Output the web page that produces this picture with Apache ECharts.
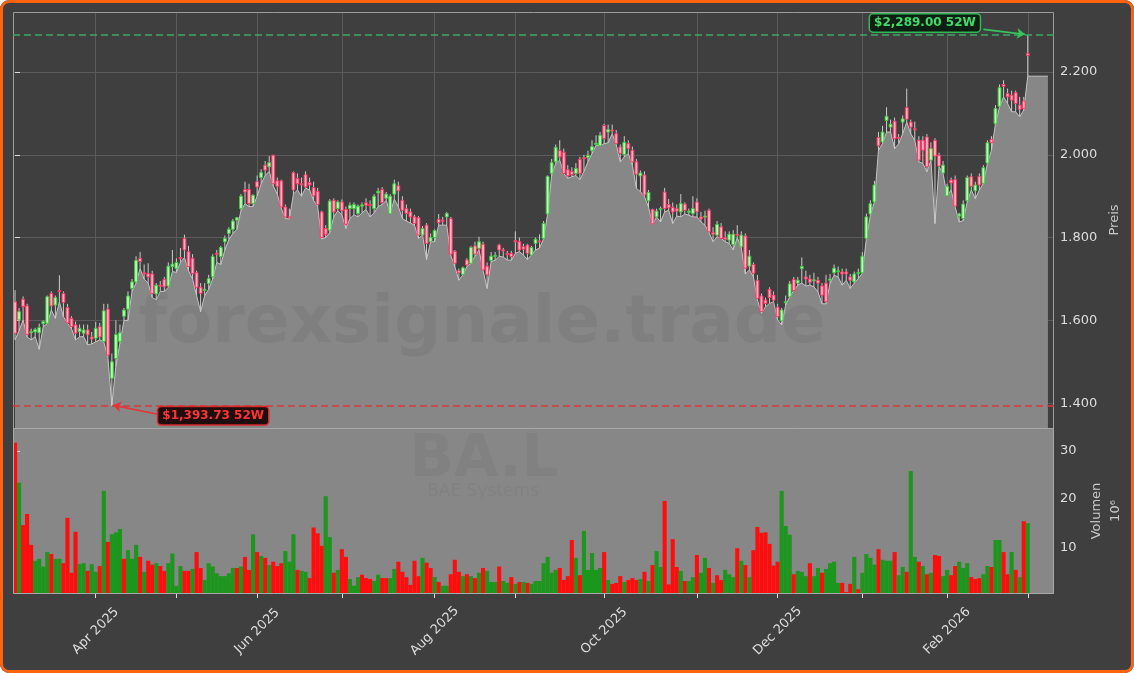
<!DOCTYPE html>
<html>
<head>
<meta charset="utf-8">
<title>BA.L – BAE Systems</title>
<script src="https://cdn.jsdelivr.net/npm/echarts@6/dist/echarts.min.js"></script>
<style>
html, body { margin: 0; padding: 0; background: #fff; }
#wrap { position: relative; width: 1134px; height: 673px; border-radius: 9px; overflow: hidden; }
#chart { width: 1134px; height: 673px; }
#frame { position: absolute; left: 0; top: 0; width: 1134px; height: 673px; box-sizing: border-box;
         border: 3px solid #ff6310; border-radius: 9px; pointer-events: none; }
</style>
</head>
<body>
<div id="wrap"><div id="chart"></div><div id="frame"></div></div>
<script>
// Handelstage LSE: Wochenenden und UK-Feiertage fallen raus
const firstDay = '2025-03-04';
const lastDay = '2026-03-02';
const holidays = ['2025-04-18', '2025-04-21', '2025-05-05', '2025-05-26',
                  '2025-08-25', '2025-12-25', '2025-12-26', '2026-01-01'];

// Kurse (GBp)
const opens = [
  1645,1601,1651,1635,1570,1572,1570,1592,1593,1665,
  1637,1672,1665,1631,1605,1589,1573,1569,1577,1560,
  1557,1585,1549,1627,1460,1508,1549,1610,1627,1677,
  1693,1750,1715,1713,1712,1664,1685,1699,1683,1730,
  1725,1752,1798,1766,1750,1715,1680,1672,1689,1705,
  1762,1754,1790,1810,1820,1842,1870,1916,1916,1882,
  1935,1945,1975,1971,1999,1937,1937,1874,1850,1957,
  1943,1930,1952,1933,1921,1912,1862,1822,1818,1890,
  1870,1886,1868,1870,1870,1858,1876,1884,1880,1870,
  1908,1916,1895,1858,1905,1925,1890,1870,1862,1850,
  1848,1806,1830,1790,1800,1844,1842,1850,1846,1767,
  1720,1711,1746,1738,1780,1774,1784,1731,1745,1757,
  1782,1770,1762,1762,1793,1790,1778,1782,1758,1786,
  1792,1798,1857,1955,1983,2010,2006,1964,1960,1955,
  1989,1993,1993,2010,2025,2022,2071,2055,2060,2051,
  2019,2001,2027,2011,1983,1949,1951,1889,1868,1850,
  1870,1910,1880,1873,1870,1862,1881,1861,1858,1886,
  1850,1850,1866,1812,1806,1826,1800,1794,1783,1808,
  1778,1804,1731,1735,1697,1659,1649,1675,1661,1632,
  1599,1644,1657,1699,1690,1725,1705,1700,1697,1697,
  1683,1690,1697,1715,1720,1717,1717,1705,1693,1713,
  1715,1798,1857,1886,2042,2031,2083,2067,2081,2042,
  2079,2114,2079,2063,2035,2035,2043,1987,2035,1999,
  1956,1901,1939,1940,1852,1846,1889,1947,1913,1948,
  1931,1980,2037,2075,2117,2170,2148,2144,2150,2120,
  2130,2245
];
const closes = [
  1569,1621,1633,1566,1573,1578,1583,1597,1657,1635,
  1655,1670,1643,1594,1585,1569,1581,1577,1565,1555,
  1581,1560,1623,1516,1500,1566,1570,1625,1659,1693,
  1745,1742,1713,1705,1665,1685,1684,1681,1731,1736,
  1740,1749,1770,1730,1713,1680,1665,1675,1701,1754,
  1761,1776,1798,1820,1840,1848,1900,1910,1882,1902,
  1922,1957,1963,1981,1930,1924,1874,1850,1848,1915,
  1930,1928,1922,1927,1901,1880,1800,1808,1888,1862,
  1886,1865,1832,1878,1880,1876,1879,1878,1879,1900,
  1912,1884,1905,1900,1930,1913,1866,1858,1850,1834,
  1806,1822,1786,1800,1817,1836,1841,1858,1760,1738,
  1715,1727,1734,1776,1760,1790,1722,1710,1755,1757,
  1770,1768,1759,1754,1790,1770,1772,1762,1776,1796,
  1790,1834,1948,1981,2018,1995,1955,1949,1952,1967,
  1955,1992,1999,2020,2028,2047,2039,2061,2058,2027,
  2003,2030,2015,1983,1953,1956,1903,1909,1833,1864,
  1870,1870,1872,1862,1864,1882,1866,1864,1870,1862,
  1845,1852,1814,1808,1832,1798,1796,1808,1808,1805,
  1806,1726,1755,1714,1653,1621,1641,1655,1649,1609,
  1625,1645,1688,1672,1697,1730,1700,1692,1698,1690,
  1661,1645,1700,1726,1720,1712,1712,1697,1712,1716,
  1755,1850,1882,1927,2022,2055,2093,2074,2039,2040,
  2087,2086,2067,2062,1987,2011,1971,2015,1997,1973,
  1975,1924,1932,1876,1857,1881,1945,1924,1927,1927,
  1969,2029,2029,2112,2162,2165,2140,2132,2124,2110,
  2112,2240
];
const lows = [
  1553,1575,1601,1560,1553,1561,1530,1585,1592,1625,
  1605,1645,1609,1593,1580,1553,1560,1561,1541,1543,
  1548,1553,1548,1512,1393.73,1490,1545,1600,1600,1670,
  1690,1725,1700,1690,1655,1650,1670,1670,1680,1718,
  1716,1740,1752,1720,1700,1660,1621,1660,1675,1700,
  1740,1735,1770,1795,1810,1820,1865,1882,1875,1875,
  1900,1930,1950,1960,1925,1905,1870,1846,1845,1905,
  1915,1900,1920,1915,1890,1875,1797,1800,1812,1850,
  1865,1855,1822,1846,1855,1850,1860,1868,1850,1860,
  1875,1880,1890,1858,1893,1875,1846,1840,1835,1830,
  1798,1806,1747,1790,1790,1830,1830,1830,1757,1730,
  1697,1710,1730,1738,1755,1770,1721,1677,1742,1745,
  1755,1753,1746,1745,1762,1766,1758,1747,1758,1770,
  1775,1797,1857,1950,1979,1987,1955,1943,1947,1950,
  1940,1960,1983,2003,2023,2022,2027,2029,2051,2025,
  1983,1995,2003,1975,1919,1911,1899,1874,1832,1850,
  1838,1862,1866,1834,1852,1850,1857,1854,1850,1850,
  1838,1830,1812,1790,1802,1798,1790,1786,1770,1800,
  1775,1712,1722,1705,1650,1617,1633,1641,1645,1601,
  1589,1637,1657,1672,1685,1690,1683,1685,1681,1669,
  1640,1640,1690,1709,1705,1685,1697,1677,1690,1701,
  1714,1798,1854,1886,2011,2027,2055,2055,2015,2027,
  2051,2079,2051,2035,1983,1979,1959,1987,1834,1971,
  1955,1901,1915,1874,1838,1841,1886,1915,1894,1915,
  1931,1979,2011,2075,2115,2140,2124,2104,2104,2092,
  2108,2190
];
const highs = [
  1673,1630,1658,1640,1580,1582,1592,1600,1660,1670,
  1660,1709,1670,1640,1610,1597,1590,1590,1590,1572,
  1596,1594,1640,1640,1520,1600,1590,1630,1670,1700,
  1755,1765,1735,1738,1720,1690,1695,1705,1740,1770,
  1750,1775,1807,1780,1760,1720,1690,1690,1710,1760,
  1770,1780,1805,1825,1845,1850,1905,1935,1930,1905,
  1950,1965,1985,1997,2000,1945,1940,1880,1870,1960,
  1955,1945,1960,1945,1935,1920,1865,1830,1893,1895,
  1890,1892,1875,1885,1885,1880,1885,1895,1890,1905,
  1920,1922,1910,1905,1940,1935,1900,1880,1870,1855,
  1852,1828,1835,1810,1820,1857,1850,1862,1850,1770,
  1725,1730,1750,1780,1790,1802,1790,1740,1765,1765,
  1785,1775,1768,1768,1815,1800,1785,1785,1780,1800,
  1808,1840,1950,1990,2025,2035,2015,1975,1970,1980,
  1995,2000,2010,2035,2047,2055,2075,2073,2073,2060,
  2025,2045,2035,2020,1990,1962,1960,1915,1870,1870,
  1875,1920,1893,1885,1880,1905,1885,1870,1900,1895,
  1862,1865,1870,1825,1840,1835,1815,1815,1818,1830,
  1815,1810,1770,1740,1710,1665,1655,1680,1670,1640,
  1630,1660,1695,1705,1705,1752,1720,1710,1715,1705,
  1690,1710,1712,1735,1730,1725,1725,1712,1718,1725,
  1765,1858,1890,1937,2055,2070,2115,2085,2090,2050,
  2095,2160,2085,2080,2045,2045,2050,2030,2040,2005,
  1985,1930,1945,1950,1860,1890,1950,1955,1935,1955,
  1975,2035,2045,2120,2170,2180,2160,2155,2155,2140,
  2140,2289
];
// Flaeche laeuft rechts nach dem letzten Tag noch flach weiter
const lowTail = [2190, 2190, 2190, 2190, 2190];

// Volumen in Mio. Stueck, 1 = gruener Balken
const volumes = [
  31.7,23.4,14.6,16.9,10.5,7.2,7.6,6.0,9.0,8.6,
  7.6,7.6,6.7,16.1,4.7,13.2,6.5,6.7,5.1,6.5,
  4.9,6.1,21.7,11.1,12.7,13.1,13.8,7.6,9.4,7.6,
  10.5,8.0,4.9,7.2,6.4,6.7,6.1,5.1,6.7,8.7,
  2.0,6.1,5.1,5.1,5.5,9.0,5.7,3.2,6.7,6.0,
  4.6,4.0,4.0,4.6,5.7,5.7,6.0,8.0,5.3,12.7,
  9.0,8.2,7.8,6.3,7.0,6.1,6.7,9.2,7.0,12.7,
  5.3,5.1,4.9,3.6,14.1,12.9,10.3,20.6,12.1,4.7,
  5.3,9.6,8.0,3.4,2.0,3.8,4.3,3.6,3.4,3.0,
  4.3,3.6,3.6,3.6,5.5,7.0,4.9,3.8,2.2,7.2,
  4.0,7.8,6.8,5.7,3.8,2.8,2.0,2.0,4.4,7.4,
  4.9,4.0,4.4,4.0,3.6,4.7,5.7,5.1,2.8,2.8,
  6.0,3.0,2.6,3.8,2.4,2.8,2.8,2.6,2.4,3.0,
  3.0,6.7,8.0,4.7,5.3,5.7,3.2,4.0,11.5,7.8,
  4.2,13.4,5.3,8.8,5.3,5.7,9.0,3.2,2.4,2.6,
  4.0,2.8,3.2,3.6,3.2,3.4,4.9,3.0,6.3,9.2,
  5.9,19.6,2.3,11.7,5.9,5.1,3.0,3.0,3.8,8.4,
  4.7,7.8,5.7,2.6,4.2,3.2,5.3,4.4,3.8,9.8,
  7.2,6.3,3.8,9.4,14.2,13.0,13.1,10.7,6.2,7.0,
  21.7,14.4,12.6,4.4,5.1,4.9,4.0,6.7,4.0,5.7,
  4.7,5.5,6.7,7.0,2.6,2.6,0.7,2.4,8.0,1.3,
  4.7,8.6,7.8,6.4,9.6,7.4,7.2,7.2,9.0,4.2,
  5.9,4.9,25.8,8.0,7.0,6.1,4.4,4.7,8.4,8.2,
  4.0,5.3,4.2,6.1,7.0,5.7,6.7,3.8,3.4,3.6,
  4.4,6.1,5.9,11.5,11.5,9.0,4.4,9.0,5.3,3.8,
  15.4,15.0
];
const volumeUp = [
  0,1,0,0,0,1,1,1,1,0, 1,1,0,0,0,0,1,1,0,1,
  1,0,1,0,1,1,1,0,1,1, 1,0,1,0,0,1,0,0,1,1,
  1,1,0,0,1,0,0,1,1,1, 1,1,1,1,1,0,1,0,0,1,
  0,1,0,1,0,0,0,1,1,1, 0,1,1,0,0,0,0,1,1,0,
  1,0,0,1,1,1,0,0,0,1, 1,0,0,1,1,0,0,0,0,0,
  0,1,0,0,1,0,1,1,0,0, 0,1,0,1,0,1,0,1,1,1,
  0,1,1,0,1,0,1,0,1,1, 1,1,1,1,1,0,0,0,0,1,
  0,1,1,1,1,1,0,1,0,0, 0,1,0,0,0,1,0,1,0,1,
  1,0,0,0,0,1,0,1,1,0, 1,1,0,1,0,0,1,1,1,0,
  1,0,1,0,0,0,0,0,0,0, 1,1,1,0,1,1,1,0,1,1,
  0,1,1,1,1,0,0,0,1,0, 1,1,1,1,0,1,1,1,0,1,
  1,0,1,1,0,1,0,1,0,0, 1,1,0,0,1,1,1,0,0,0,
  1,1,0,1,1,0,0,1,0,1, 0,1
];

const priceTicks = [1400, 1600, 1800, 2000, 2200];
const volumeTicks = [10, 20, 30];
const high52 = 2289.00;
const low52 = 1393.73;

const monthNames = ['Jan','Feb','Mar','Apr','May','Jun','Jul','Aug','Sep','Oct','Nov','Dec'];

function tradingDays(from, to) {
  const out = [];
  const d = new Date(from + 'T00:00:00Z');
  const end = new Date(to + 'T00:00:00Z');
  while (d <= end) {
    const iso = d.toISOString().slice(0, 10);
    const wd = d.getUTCDay();
    if (wd !== 0 && wd !== 6 && holidays.indexOf(iso) < 0) out.push(iso);
    d.setUTCDate(d.getUTCDate() + 1);
  }
  return out;
}

const days = tradingDays(firstDay, lastDay);
const slots = days.length + 6;

// erster Handelstag jedes Monats -> Tick, jeder zweite Monat bekommt Beschriftung
const monthStarts = [];
const labeledStarts = [];
days.forEach(function (d, i) {
  if (i > 0 && d.slice(5, 7) !== days[i - 1].slice(5, 7)) {
    monthStarts.push(i);
    if ((+d.slice(5, 7) - 1) % 2 === 1) labeledStarts.push(i);
  }
});

function dayLabel(v) {
  const d = days[Math.round(v)];
  if (!d) return '';
  return monthNames[+d.slice(5, 7) - 1] + ' ' + d.slice(0, 4);
}

function money(v) {
  return '$' + v.toLocaleString('en-US', { minimumFractionDigits: 2, maximumFractionDigits: 2 }) + ' 52W';
}

const candleData = days.map(function (d, i) { return [i, opens[i], closes[i], lows[i], highs[i]]; });
const areaData = lows.concat(lowTail).map(function (v, i) { return [i, v]; });
const volumeData = volumes.map(function (v, i) {
  return { value: [i, v], itemStyle: { color: volumeUp[i] ? '#1c961c' : '#ff0d0d' } };
});

function renderCandle(params, api) {
  const i = api.value(0);
  const o = api.value(1), c = api.value(2), l = api.value(3), h = api.value(4);
  const pO = api.coord([i, o]);
  const pC = api.coord([i, c]);
  const pL = api.coord([i, l]);
  const pH = api.coord([i, h]);
  const w = api.size([1, 0])[0] * 0.7;
  const up = c >= o;
  const top = Math.min(pO[1], pC[1]);
  const hgt = Math.max(Math.abs(pO[1] - pC[1]), 1);
  return {
    type: 'group',
    children: [
      { type: 'line', shape: { x1: pH[0], y1: pH[1], x2: pL[0], y2: pL[1] },
        style: { stroke: '#cccccc', lineWidth: 1 } },
      { type: 'rect', shape: { x: pO[0] - w / 2, y: top, width: w, height: hgt },
        style: { fill: up ? '#c8f0c8' : '#ffb3c3', stroke: up ? '#3ccb3c' : '#ff3563', lineWidth: 1 } }
    ]
  };
}

const chart = echarts.init(document.getElementById('chart'), null, { renderer: 'canvas' });
const txt = '#dddddd';
const font = 'DejaVu Sans';

// Panels: Kurs oben, Volumen unten
const pricePanel = { left: 13, top: 12, width: 1041, height: 416 };
const volumePanel = { left: 13, top: 428, width: 1041, height: 166 };

chart.setOption({
  backgroundColor: '#3f3f3f',
  animation: false,
  textStyle: { fontFamily: font },
  grid: [
    Object.assign({ show: true, backgroundColor: '#3f3f3f', borderWidth: 0 }, pricePanel),
    Object.assign({ show: true, backgroundColor: '#878787', borderWidth: 0 }, volumePanel)
  ],
  xAxis: [
    { type: 'value', gridIndex: 0, min: -0.5, max: slots - 0.5,
      axisLine: { show: false },
      axisTick: { show: false, customValues: monthStarts },
      axisLabel: { show: false, customValues: monthStarts },
      splitLine: { show: true, lineStyle: { color: '#5b5b5b', width: 1 } } },
    { type: 'value', gridIndex: 1, min: -0.5, max: slots - 0.5,
      axisLine: { show: false },
      axisTick: { show: true, customValues: monthStarts, length: 4, lineStyle: { color: txt } },
      axisLabel: { customValues: labeledStarts, formatter: dayLabel, rotate: 45,
                   align: 'center', verticalAlign: 'middle', margin: 37,
                   color: txt, fontSize: 13, fontFamily: font },
      splitLine: { show: false } }
  ],
  yAxis: [
    { type: 'value', gridIndex: 0, position: 'right', min: 1340, max: 2345,
      axisLine: { show: false },
      axisTick: { show: true, customValues: priceTicks, length: 5, lineStyle: { color: txt } },
      axisLabel: { customValues: priceTicks, margin: 6, color: txt, fontSize: 13, fontFamily: font,
                   formatter: function (v) { return (v / 1000).toFixed(3); } },
      splitLine: { show: true, lineStyle: { color: '#5b5b5b', width: 1 } },
      name: 'Preis', nameLocation: 'middle', nameRotate: 90, nameGap: 54,
      nameTextStyle: { color: '#c8c8c8', fontSize: 13, fontFamily: font } },
    { type: 'value', gridIndex: 1, position: 'right', min: 0.3, max: 34.75,
      axisLine: { show: false },
      axisTick: { show: true, customValues: volumeTicks, length: 5, lineStyle: { color: txt } },
      axisLabel: { customValues: volumeTicks, margin: 6, color: txt, fontSize: 13, fontFamily: font },
      splitLine: { show: false },
      name: 'Volumen\n10⁶', nameLocation: 'middle', nameRotate: 90, nameGap: 32,
      nameTextStyle: { color: '#c8c8c8', fontSize: 13, lineHeight: 19, fontFamily: font } }
  ],
  graphic: [
    { type: 'text', z: 2, silent: true, x: 482, y: 325,
      style: { text: 'forexsignale.trade', fill: 'rgba(0,0,0,0.055)', font: 'bold 66px "DejaVu Sans"',
               textAlign: 'center', textVerticalAlign: 'middle' } },
    { type: 'text', z: 2, silent: true, x: 484, y: 461,
      style: { text: 'BA.L', fill: 'rgba(0,0,0,0.045)', font: 'bold 58px "DejaVu Sans"',
               textAlign: 'center', textVerticalAlign: 'middle' } },
    { type: 'text', z: 2, silent: true, x: 483, y: 492,
      style: { text: 'BAE Systems', fill: 'rgba(0,0,0,0.045)', font: '17px "DejaVu Sans"',
               textAlign: 'center', textVerticalAlign: 'middle' } },
    // Rahmen der beiden Panels liegt ueber der Flaeche
    { type: 'rect', z: 4, silent: true,
      shape: { x: pricePanel.left + 0.5, y: pricePanel.top + 0.5, width: pricePanel.width - 1, height: pricePanel.height },
      style: { fill: null, stroke: '#9c9c9c', lineWidth: 1 } },
    { type: 'rect', z: 4, silent: true,
      shape: { x: volumePanel.left + 0.5, y: volumePanel.top + 0.5, width: volumePanel.width - 1, height: volumePanel.height - 1 },
      style: { fill: null, stroke: '#a8a8a8', lineWidth: 1 } }
  ],
  series: [
    {
      name: 'Tief', type: 'line', xAxisIndex: 0, yAxisIndex: 0, z: 1,
      data: areaData, symbol: 'none', silent: true,
      lineStyle: { color: '#c4c4c4', width: 1 },
      areaStyle: { color: '#878787', opacity: 1, origin: 'start' },
      markLine: {
        silent: true, symbol: ['none', 'none'], label: { show: false },
        data: [
          { yAxis: high52, lineStyle: { color: '#3fa866', type: [7, 4], width: 1.6 } },
          { yAxis: low52, lineStyle: { color: '#d93a3a', type: [7, 4], width: 1.6 } },
          [
            { coord: [240, 2303], symbol: 'none', lineStyle: { color: '#36c45d', type: 'solid', width: 1.6 } },
            { coord: [250.3, 2291], symbol: 'arrow', symbolSize: 8, lineStyle: { color: '#36c45d', type: 'solid', width: 1.6 } }
          ],
          [
            { coord: [35.1, 1374], symbol: 'none', lineStyle: { color: '#e83232', type: 'solid', width: 1.6 } },
            { coord: [24.3, 1395], symbol: 'arrow', symbolSize: 8, lineStyle: { color: '#e83232', type: 'solid', width: 1.6 } }
          ]
        ]
      },
      markPoint: {
        silent: true, symbol: 'rect', symbolSize: 1, itemStyle: { color: 'rgba(0,0,0,0)' },
        data: [
          { coord: [225.5, 2318.7],
            label: { show: true, position: 'inside', formatter: money(high52), color: '#3ddc68',
                     fontWeight: 'bold', fontSize: 12, fontFamily: font, backgroundColor: '#0d1f12',
                     borderColor: '#2fb955', borderWidth: 1.5, borderRadius: 3, padding: [3, 4, 2, 4] } },
          { coord: [49.1, 1369.4],
            label: { show: true, position: 'inside', formatter: money(low52), color: '#ff3535',
                     fontWeight: 'bold', fontSize: 12, fontFamily: font, backgroundColor: '#1f0c0c',
                     borderColor: '#d62a2a', borderWidth: 1.5, borderRadius: 3, padding: [3, 4, 2, 4] } }
        ]
      }
    },
    {
      name: 'Kurs', type: 'custom', xAxisIndex: 0, yAxisIndex: 0, z: 3,
      renderItem: renderCandle, data: candleData, silent: true,
      encode: { x: 0, y: [1, 2, 3, 4] }
    },
    {
      name: 'Volumen', type: 'bar', xAxisIndex: 1, yAxisIndex: 1, z: 3,
      data: volumeData, barWidth: 4.1, silent: true
    }
  ]
});
</script>
</body>
</html>
